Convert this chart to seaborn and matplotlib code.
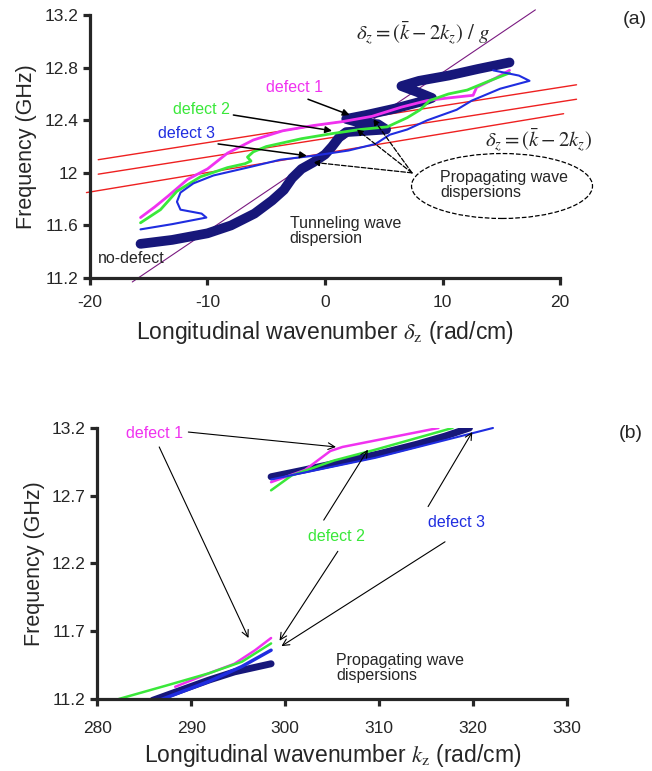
import numpy as np
import pandas as pd
import matplotlib
matplotlib.use('Agg')
import matplotlib.pyplot as plt
from matplotlib.patches import Ellipse
import seaborn as sns

# ---------------- data ----------------
# panel (a): frequency vs. delta_z
a_nodef_x = [-15.7, -13, -10, -8, -6, -4.5, -3.5, -2.8, -2, -1, 0, 0.6, 1.2, 1.8, 3.5, 5.2,
             4.5, 3, 1.8, 3.5, 6, 8.5, 9.1, 8, 6.5, 8, 10.5, 13, 15.7]
a_nodef_y = [11.46, 11.49, 11.54, 11.60, 11.69, 11.79, 11.87, 11.96, 12.03, 12.08, 12.14, 12.20,
             12.27, 12.31, 12.32, 12.33, 12.37, 12.38, 12.41, 12.44, 12.49, 12.55, 12.57, 12.61,
             12.66, 12.70, 12.74, 12.79, 12.84]
a_def1_x = [-15.7, -14.5, -13.4, -11.7, -10, -8.3, -6.1, -3.6, -1, 1.5, 4, 6.5, 8.7, 10.5, 12.6,
            12.9, 14.5, 15.7]
a_def1_y = [11.66, 11.74, 11.82, 11.95, 12.03, 12.15, 12.25, 12.32, 12.36, 12.39, 12.43, 12.50,
            12.55, 12.57, 12.59, 12.65, 12.72, 12.78]
a_def2_x = [-15.7, -14, -12.6, -10.6, -8.3, -6.8, -6.3, -6.6, -6.1, -5, -2, 0.7, 3, 5.3, 7, 8.1,
            8.9, 10.5, 12.1, 14, 15.7]
a_def2_y = [11.62, 11.72, 11.86, 11.97, 12.04, 12.07, 12.09, 12.12, 12.16, 12.20, 12.26, 12.30,
            12.33, 12.35, 12.42, 12.48, 12.55, 12.60, 12.63, 12.70, 12.76]
a_def3_x = [-15.7, -13, -10.1, -10.5, -12.3, -12.6, -12.3, -11.2, -9.5, -6.6, -3.8, -1, 2, 4.3,
            5.5, 7, 8.7, 11.2, 12.5, 14.9, 17.4, 16.5, 14.3]
a_def3_y = [11.57, 11.61, 11.66, 11.69, 11.72, 11.78, 11.85, 11.92, 11.98, 12.04, 12.10, 12.13,
            12.17, 12.22, 12.29, 12.33, 12.40, 12.48, 12.55, 12.64, 12.70, 12.74, 12.78]
# straight reference lines (end points)
red_x = [[-19.3, 21.4], [-19.3, 21.4], [-20.3, 20.3]]
red_y = [[12.10, 12.67], [11.99, 12.56], [11.85, 12.45]]
purple_x = [-16.4, 17.9]
purple_y = [11.17, 13.24]

# panel (b): frequency vs. k_z
b_nodef_up_x = [298.5, 302, 306, 310, 314, 317, 319.6]
b_nodef_up_y = [12.84, 12.89, 12.95, 13.01, 13.08, 13.14, 13.20]
b_def1_up_x = [298.5, 302.1, 304.8, 306.1, 316.3]
b_def1_up_y = [12.80, 12.89, 13.03, 13.06, 13.20]
b_def2_up_x = [298.5, 300.7, 305.2, 309.6, 317.8]
b_def2_up_y = [12.74, 12.85, 12.96, 13.04, 13.20]
b_def3_up_x = [298.5, 309.6, 322.1]
b_def3_up_y = [12.82, 12.98, 13.20]
b_nodef_lo_x = [285.9, 291.9, 294.6, 298.5]
b_nodef_lo_y = [11.19, 11.34, 11.40, 11.46]
b_def1_lo_x = [288.3, 291.9, 294.6, 296.8, 298.5]
b_def1_lo_y = [11.29, 11.39, 11.46, 11.56, 11.65]
b_def2_lo_x = [282.3, 287.4, 291.9, 295.4, 298.5]
b_def2_lo_y = [11.20, 11.30, 11.39, 11.475, 11.61]
b_def3_lo_x = [286.6, 291.9, 295.4, 298.5]
b_def3_lo_y = [11.19, 11.33, 11.44, 11.56]

a_xticks = [-20, -10, 0, 10, 20]
a_yticks = [11.2, 11.6, 12.0, 12.4, 12.8, 13.2]
a_yticklabels = ['11.2', '11.6', '12', '12.4', '12.8', '13.2']
b_xticks = [280, 290, 300, 310, 320, 330]
b_yticks = [11.2, 11.7, 12.2, 12.7, 13.2]

NAVY = '#17177a'
MAGENTA = '#f032f0'
GREEN = '#3ae83a'
BLUE = '#1f2de0'
RED = '#ee2020'
PURPLE = '#7a1a80'

# ---------------- style ----------------
sns.set_style('ticks')
plt.rcParams['font.family'] = ['Liberation Sans', 'DejaVu Sans']
plt.rcParams['mathtext.fontset'] = 'stix'
plt.rcParams['axes.unicode_minus'] = False

fig = plt.figure(figsize=(6.52, 7.71), dpi=100)
ax1 = fig.add_axes([0.138, 0.6394, 0.721, 0.341])
ax2 = fig.add_axes([0.149, 0.0934, 0.721, 0.3515])


def curve(ax, xs, ys, color, lw, clip=True):
    sns.lineplot(x=xs, y=ys, sort=False, estimator=None, color=color, lw=lw, ax=ax,
                 solid_capstyle='round', solid_joinstyle='round')
    ax.lines[-1].set_clip_on(clip)


def style_axes(ax, xpad):
    sns.despine(ax=ax)
    for s in ['left', 'bottom']:
        ax.spines[s].set_linewidth(2.3)
    ax.tick_params(width=2.3, length=5, labelsize=12.5, direction='out')
    ax.tick_params(axis='x', pad=xpad)


# ---------------- panel (a) ----------------
for xs, ys in zip(red_x, red_y):
    curve(ax1, xs, ys, RED, 1.0, clip=False)
curve(ax1, purple_x, purple_y, PURPLE, 0.8, clip=False)
curve(ax1, a_nodef_x, a_nodef_y, NAVY, 7.0)
curve(ax1, a_def1_x, a_def1_y, MAGENTA, 2.0)
curve(ax1, a_def2_x, a_def2_y, GREEN, 2.0)
curve(ax1, a_def3_x, a_def3_y, BLUE, 1.5, clip=False)

ax1.set_xlim(-20, 20)
ax1.set_ylim(11.2, 13.2)
ax1.set_xticks(a_xticks)
ax1.set_yticks(a_yticks)
ax1.set_yticklabels(a_yticklabels)
style_axes(ax1, 7.5)
ax1.set_xlabel(r'Longitudinal wavenumber $\delta_{\mathrm{z}}$ (rad/cm)', fontsize=16.5, labelpad=6)
ax1.set_ylabel('Frequency (GHz)', fontsize=15.5, labelpad=5)

ax1.text(8.3, 13.06, r'$\delta_z = (\bar{k} - 2k_z)\ /\ g$', fontsize=15, ha='center', va='center')
ax1.text(18.2, 12.25, r'$\delta_z = (\bar{k} - 2k_z)$', fontsize=15, ha='center', va='center',
         clip_on=False)
ax1.text(-2.6, 12.65, 'defect 1', color=MAGENTA, fontsize=11.5, ha='center', va='center')
ax1.text(-10.55, 12.48, 'defect 2', color=GREEN, fontsize=11.5, ha='center', va='center')
ax1.text(-11.8, 12.30, 'defect 3', color=BLUE, fontsize=11.5, ha='center', va='center')
ax1.text(-16.5, 11.35, 'no-defect', fontsize=11.5, ha='center', va='center')
ax1.text(-3.0, 11.56, 'Tunneling wave\ndispersion', fontsize=11.5, ha='left', va='center',
         linespacing=1.0)
ax1.text(9.8, 11.91, 'Propagating wave\ndispersions', fontsize=11.5, ha='left', va='center',
         linespacing=1.0)
ax1.add_patch(Ellipse((15.06, 11.90), 15.4, 0.494, fill=False, ls='--', lw=0.9,
                      ec='k', clip_on=False))

solid = dict(arrowstyle='-|>', color='k', lw=1.1, mutation_scale=10, shrinkA=0, shrinkB=0)
ax1.annotate('', xy=(2.1, 12.44), xytext=(-1.45, 12.56), arrowprops=solid)
ax1.annotate('', xy=(0.6, 12.32), xytext=(-7.8, 12.44), arrowprops=solid)
ax1.annotate('', xy=(-1.55, 12.13), xytext=(-9.1, 12.22), arrowprops=solid)
dashed = dict(arrowstyle='-|>', color='k', lw=0.9, ls='--', mutation_scale=9,
              shrinkA=0, shrinkB=0)
for tip in [(-1.0, 12.08), (2.7, 12.33), (4.1, 12.41)]:
    ax1.annotate('', xy=tip, xytext=(7.4, 12.0), arrowprops=dashed)

fig.text(0.973, 0.975, '(a)', fontsize=14, ha='center', va='center')

# ---------------- panel (b) ----------------
curve(ax2, b_nodef_up_x, b_nodef_up_y, NAVY, 5.0)
curve(ax2, b_def1_up_x, b_def1_up_y, MAGENTA, 1.8)
curve(ax2, b_def2_up_x, b_def2_up_y, GREEN, 1.8)
curve(ax2, b_def3_up_x, b_def3_up_y, BLUE, 1.5, clip=False)
curve(ax2, b_nodef_lo_x, b_nodef_lo_y, NAVY, 5.0)
curve(ax2, b_def3_lo_x, b_def3_lo_y, BLUE, 2.5)
curve(ax2, b_def1_lo_x, b_def1_lo_y, MAGENTA, 1.8)
curve(ax2, b_def2_lo_x, b_def2_lo_y, GREEN, 1.8)

ax2.set_xlim(280, 330)
ax2.set_ylim(11.2, 13.2)
ax2.set_xticks(b_xticks)
ax2.set_yticks(b_yticks)
style_axes(ax2, 11)
ax2.set_xlabel(r'Longitudinal wavenumber $k_{\mathrm{z}}$ (rad/cm)', fontsize=16.5, labelpad=4)
ax2.set_ylabel('Frequency (GHz)', fontsize=15.5, labelpad=5)

ax2.text(286.1, 13.16, 'defect 1', color=MAGENTA, fontsize=11.5, ha='center', va='center')
ax2.text(305.4, 12.40, 'defect 2', color=GREEN, fontsize=11.5, ha='center', va='center')
ax2.text(318.2, 12.50, 'defect 3', color=BLUE, fontsize=11.5, ha='center', va='center')
ax2.text(305.4, 11.43, 'Propagating wave\ndispersions', fontsize=11.5, ha='left', va='center',
         linespacing=1.0)

thin = dict(arrowstyle='->', color='k', lw=0.8, mutation_scale=12, shrinkA=0, shrinkB=0)
arrows_b = [((289.7, 13.17), (305.4, 13.06)),
            ((286.6, 13.06), (296.1, 11.65)),
            ((304.1, 12.52), (308.8, 13.04)),
            ((305.6, 12.29), (299.4, 11.63)),
            ((315.2, 12.62), (319.9, 13.17)),
            ((317.0, 12.36), (299.6, 11.59))]
for start, end in arrows_b:
    ax2.annotate('', xy=end, xytext=start, arrowprops=thin)

fig.text(0.968, 0.438, '(b)', fontsize=14, ha='center', va='center')

fig.savefig('out.png', dpi=100)
